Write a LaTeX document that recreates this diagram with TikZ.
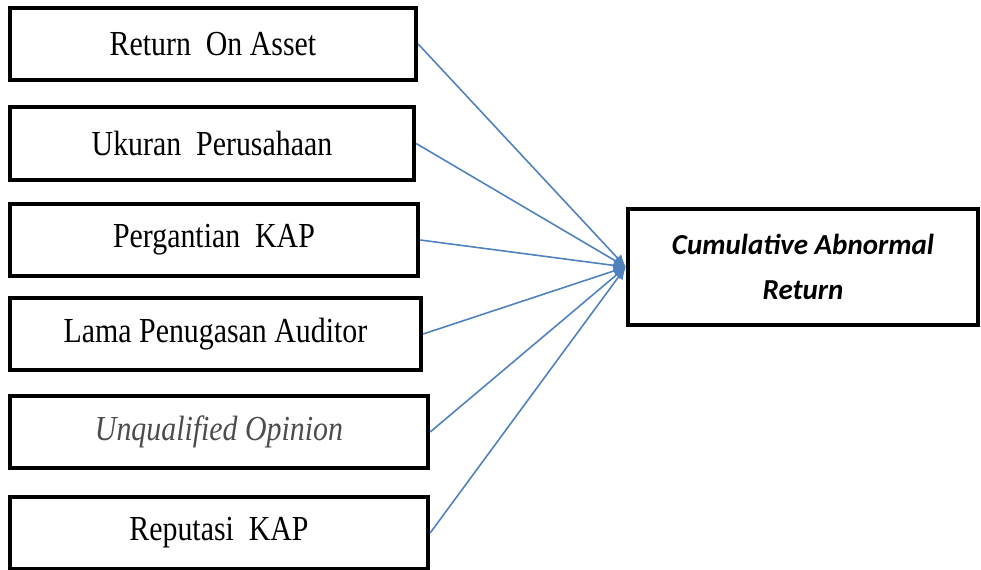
\documentclass[tikz,border=0pt]{standalone}
\usepackage{fontspec}
\usepackage{tikz}
\usetikzlibrary{arrows.meta}
\setmainfont{Liberation Serif}
\newfontfamily\boxfont[FakeStretch=0.85]{Liberation Serif}
\newfontfamily\carfont{Carlito}
\definecolor{linkblue}{RGB}{79,129,189}

\begin{document}
\begin{tikzpicture}[x=0.02cm, y=-0.02cm,
                    varbox/.style={draw, line width=2.5pt, minimum height=1.45cm,
                      inner sep=0pt, font=\boxfont\fontsize{20}{24}\selectfont},
                    link/.style={draw=linkblue, line width=0.9pt,
                      -{Latex[length=7pt,width=6pt]}}]
                    \useasboundingbox (0,0) rectangle (981,570);
                    % Independent variables
                    \node [varbox, minimum width=8.12cm] (roa) at (213,44) {Return~ On Asset};
                    \node [varbox, minimum width=8.08cm] (size) at (212,143.5) {Ukuran~ Perusahaan};
                    \node [varbox, minimum width=8.16cm] (switch) at (214,240) {Pergantian~ KAP};
                    \node [varbox, minimum width=8.22cm] (tenure) at (215.5,334) {Lama Penugasan Auditor};
                    \node [varbox, minimum width=8.36cm, text=black!70] (opinion) at (219,432) {\itshape Unqualified Opinion};
                    \node [varbox, minimum width=8.36cm] (rep) at (219,533) {Reputasi~ KAP};
                    % Dependent variable
                    \node [draw, line width=2.5pt, minimum width=7cm, minimum height=2.32cm,
                      align=center, font=\carfont\itshape\bfseries\fontsize{16.5}{25.6}\selectfont]
                      (car) at (803,267) {Cumulative Abnormal\\Return};
                    % Arrows
                    \draw [link] (roa.east) -- (car.west);
                    \draw [link] (size.east) -- (car.west);
                    \draw [link] (switch.east) -- (car.west);
                    \draw [link] (tenure.east) -- (car.west);
                    \draw [link] (opinion.east) -- (car.west);
                    \draw [link] (rep.east) -- (car.west);
                \end{tikzpicture}
\end{document}
